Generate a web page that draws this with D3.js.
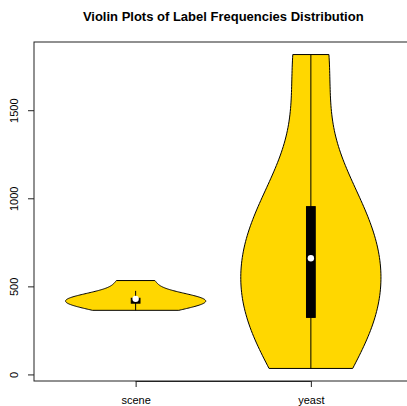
<!DOCTYPE html>
<html><head><meta charset="utf-8">
<script src="https://cdn.jsdelivr.net/npm/d3@7"></script>
<style>body{margin:0;background:#fff}svg{display:block}</style>
</head><body>
<svg id="c" width="407" height="406"></svg>
<script>
// Data: label frequencies per dataset
const categories = ["scene", "yeast"];
const sceneFreq = [427, 364, 397, 433, 533, 431];
const yeastFreq = [762, 1038, 983, 862, 722, 597, 428, 480, 178, 253, 289, 1816, 1799, 34];
const yTicks = [0, 500, 1000, 1500];
const title = "Violin Plots of Label Frequencies Distribution";

const series = [sceneFreq, yeastFreq];
const svg = d3.select("#c");
const font = "'Liberation Sans', Arial, Helvetica, sans-serif";

const stats = series.map(d => {
  const s = d.slice().sort((a,b)=>a-b);
  const q1 = d3.quantileSorted(s, 0.25), q3 = d3.quantileSorted(s, 0.75), med = d3.quantileSorted(s, 0.5);
  const iqr = q3 - q1;
  const lower = Math.max(q1 - 1.5*iqr, s[0]);
  const upper = Math.min(q3 + 1.5*iqr, s[s.length-1]);
  const n = s.length;
  const h = d3.deviation(s) * Math.pow(4/(3*n), 0.2);
  const ng = 100, lo = s[0], hi = s[n-1];
  const pts = d3.range(ng).map(i => {
    const t = lo + (hi-lo)*i/(ng-1);
    const e = d3.sum(s, v => Math.exp(-0.5*((t-v)/h)**2));
    return [t, e];
  });
  const mx = d3.max(pts, p=>p[1]);
  pts.forEach(p => p[1] = p[1]/mx*0.4);
  return {q1,q3,med,lower,upper,pts};
});

const yMin = d3.min(stats, s=>s.lower), yMax = d3.max(stats, s=>s.upper);
const yPad = (yMax - yMin)*0.04;
const y = d3.scaleLinear().domain([yMin - yPad, yMax + yPad]).range([381, 42]);
const x = d3.scaleLinear().domain([0.5 - 0.08, 2.5 + 0.08]).range([34, 412.5]);

// violins
stats.forEach((st, i) => {
  const at = i + 1;
  const left = st.pts.map(p => [x(at - p[1]), y(p[0])]);
  const right = st.pts.slice().reverse().map(p => [x(at + p[1]), y(p[0])]);
  svg.append("path")
    .attr("d", d3.line()(left.concat(right)) + "Z")
    .attr("fill", "#FFD700").attr("stroke", "#000").attr("stroke-width", 1);
  svg.append("line")
    .attr("x1", x(at)).attr("x2", x(at))
    .attr("y1", y(st.lower)).attr("y2", y(st.upper))
    .attr("stroke", "#000").attr("stroke-width", 1);
  svg.append("rect")
    .attr("x", x(at - 0.025)).attr("width", x(at + 0.025) - x(at - 0.025))
    .attr("y", y(st.q3)).attr("height", y(st.q1) - y(st.q3))
    .attr("fill", "#000").attr("stroke", "#000").attr("stroke-width", 1);
  svg.append("circle")
    .attr("cx", x(at)).attr("cy", y(st.med)).attr("r", 3.2)
    .attr("fill", "#fff");
});

// box
svg.append("rect").attr("x", 34).attr("y", 42).attr("width", 412.5-34).attr("height", 381-42)
  .attr("fill", "none").attr("stroke", "#222").attr("stroke-width", 1);

// axes
const ya = svg.append("g").attr("transform", "translate(34,0)")
  .call(d3.axisLeft(y).tickValues(yTicks).tickSize(6).tickPadding(0).tickFormat(d3.format("d")));
ya.select(".domain").remove();
ya.selectAll("line").attr("stroke", "#222");
ya.selectAll("text")
  .attr("x", null).attr("dy", null)
  .attr("transform", "translate(-16,0) rotate(-90)")
  .attr("text-anchor", "middle")
  .attr("font-family", font).attr("font-size", 11).attr("fill", "#000");

const xa = svg.append("g").attr("transform", "translate(0,381)")
  .call(d3.axisBottom(x).tickValues([1,2]).tickSize(6).tickFormat(d => categories[d-1]));
xa.select(".domain").attr("d", `M${x(1)},0.5H${x(2)}`).attr("stroke", "#222");
xa.selectAll("line").attr("stroke", "#222");
xa.selectAll("text").attr("y", 23).attr("dy", null)
  .attr("font-family", font).attr("font-size", 11).attr("fill", "#000");

svg.append("text").attr("x", (34+412.5)/2).attr("y", 20.5).attr("text-anchor", "middle")
  .attr("font-family", font).attr("font-weight", "bold").attr("font-size", 13)
  .attr("fill", "#000").text(title);
</script>
</body></html>
